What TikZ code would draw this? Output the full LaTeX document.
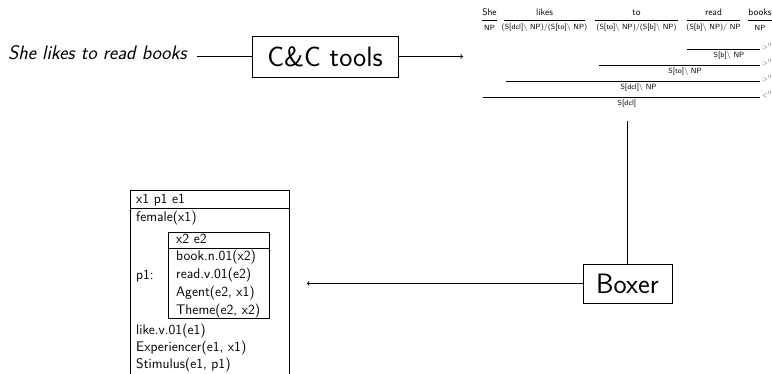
\documentclass[tikz,border=0pt]{standalone}
\begin{document}
\tikzset{
  wrd/.style={font=\sffamily\fontsize{9.5}{11}\selectfont, inner sep=0pt},
  cat/.style={font=\sffamily\fontsize{7.5}{9}\selectfont, inner sep=0pt},
  comb/.style={font=\fontsize{7.5}{8}\selectfont, inner sep=0pt, text=black!65},
  derivrule/.style={line width=0.7pt},
  drstxt/.style={font=\sffamily\fontsize{13.9}{17}\selectfont, inner sep=0pt, anchor=mid west},
  bigbox/.style={draw, line width=0.8pt, inner sep=0pt, font=\sffamily\fontsize{28}{32}\selectfont},
  drsbox/.style={draw, line width=0.8pt, inner sep=0pt, anchor=north west},
  conn/.style={line width=0.8pt},
}
\newcommand{\bs}{\textbackslash\ }
\begin{tikzpicture}[x=1pt,y=-1pt]
\useasboundingbox (0,0) rectangle (772,373);

% input sentence and parser
\node[font=\sffamily\itshape\fontsize{19.6}{22}\selectfont, inner sep=0pt, anchor=mid west] (sent) at (8,57.5) {She likes to read books};
\node[bigbox, minimum width=146pt, minimum height=41pt] (cc) at (325,56.5) {C\&C tools};
\coordinate (ccgin) at (463,56.5);
\draw[conn, shorten <=10pt] (sent.east |- cc.west) -- (cc.west);
\draw[conn, ->] (cc.east) -- (ccgin);

% CCG derivation: words
\node[wrd] (w1) at (489.5,12.5) {She};
\node[wrd] (w2) at (544.5,12.5) {likes};
\node[wrd] (w3) at (636.5,12.5) {to};
\node[wrd] (w4) at (713.5,12.5) {read};
\node[wrd] (w5) at (760,12.5) {books};
\draw[derivrule] (482,20.7) -- (497,20.7);
\draw[derivrule] (504,20.7) -- (585,20.7);
\draw[derivrule] (595,20.7) -- (678,20.7);
\draw[derivrule] (687,20.7) -- (740,20.7);
\draw[derivrule] (748,20.7) -- (771.5,20.7);
\node[cat] (c1) at (489.5,28) {NP};
\node[cat] (c2) at (544.5,28) {(S[dcl]\bs NP)/(S[to]\bs NP)};
\node[cat] (c3) at (636.5,28) {(S[to]\bs NP)/(S[b]\bs NP)};
\node[cat] (c4) at (713.5,28) {(S[b]\bs NP)/ NP};
\node[cat] (c5) at (760,28) {NP};

% combinations
\draw[derivrule] (687,49.3) -- (760,49.3);
\node[comb] (o1) at (767,46.5) {$>^{0}$};
\node[cat] (r1) at (729,55.5) {S[b]\bs NP};
\draw[derivrule] (599,65.3) -- (760,65.3);
\node[comb] (o2) at (767,62.5) {$>^{0}$};
\node[cat] (r2) at (685,71.5) {S[to]\bs NP};
\draw[derivrule] (506,81.3) -- (760,81.3);
\node[comb] (o3) at (767,78.5) {$>^{0}$};
\node[cat] (r3) at (638.5,87.5) {S[dcl]\bs NP};
\draw[derivrule] (483,97.3) -- (760,97.3);
\node[comb] (o4) at (767,94.5) {$<^{0}$};
\node[cat] (sdcl) at (627,103.5) {S[dcl]};

% Boxer
\node[bigbox, minimum width=89pt, minimum height=39pt] (boxer) at (627.5,283.5) {Boxer};
\draw[conn, shorten >=14pt] (boxer.north) -- (boxer.north |- sdcl.south);

% DRS
\node[drsbox, minimum width=159pt, minimum height=200pt] (drs) at (130,190) {};
\draw[conn] (130,208.5) -- (289,208.5);
\node[drstxt] (h1) at (136,201) {x1 p1 e1};
\node[drstxt] (t1) at (136,219) {female(x1)};
\node[drstxt] (p1) at (136,277) {p1:};
\node[drsbox, minimum width=101pt, minimum height=86pt] (inner) at (168,232) {};
\draw[conn] (168,248) -- (269,248);
\node[drstxt] (h2) at (176,241) {x2 e2};
\node[drstxt] (i1) at (176,258) {book.n.01(x2)};
\node[drstxt] (i2) at (176,276) {read.v.01(e2)};
\node[drstxt] (i3) at (176,294) {Agent(e2, x1)};
\node[drstxt] (i4) at (176,312) {Theme(e2, x2)};
\node[drstxt] (t2) at (136,332) {like.v.01(e1)};
\node[drstxt] (t3) at (136,349) {Experiencer(e1, x1)};
\node[drstxt] (t4) at (136,366) {Stimulus(e1, p1)};

\draw[conn, ->, shorten >=17pt] (boxer.west) -- (boxer.west -| drs.east);
\end{tikzpicture}
\end{document}
